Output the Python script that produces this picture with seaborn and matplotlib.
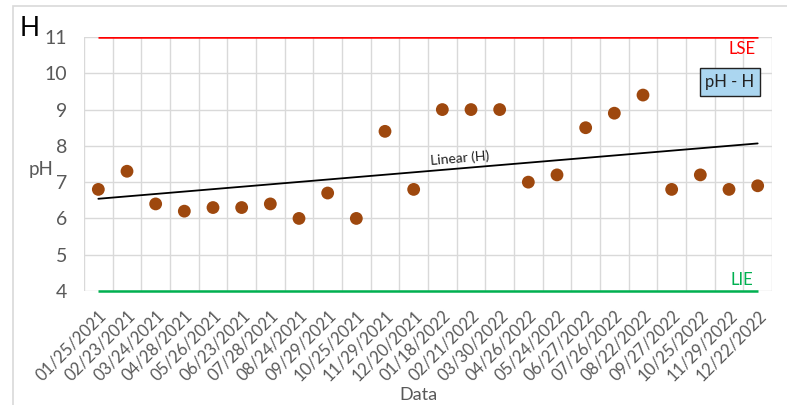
import numpy as np
import pandas as pd
import seaborn as sns
import matplotlib.pyplot as plt
from matplotlib.patches import Rectangle

dates = ["01/25/2021", "02/23/2021", "03/24/2021", "04/28/2021", "05/26/2021",
         "06/23/2021", "07/28/2021", "08/24/2021", "09/29/2021", "10/25/2021",
         "11/29/2021", "12/20/2021", "01/18/2022", "02/21/2022", "03/30/2022",
         "04/26/2022", "05/24/2022", "06/27/2022", "07/26/2022", "08/22/2022",
         "09/27/2022", "10/25/2022", "11/29/2022", "12/22/2022"]
ph_values = [6.8, 7.3, 6.4, 6.2, 6.3, 6.3, 6.4, 6.0, 6.7, 6.0, 8.4, 6.8,
             9.0, 9.0, 9.0, 7.0, 7.2, 8.5, 8.9, 9.4, 6.8, 7.2, 6.8, 6.9]
upper_limit = 11   # LSE
lower_limit = 4    # LIE
y_ticks = [4, 5, 6, 7, 8, 9, 10, 11]

sns.set_theme(style="white")
plt.rcParams['font.family'] = ['Lato', 'DejaVu Sans']

df = pd.DataFrame({"idx": np.arange(len(dates)), "ph": ph_values, "date": dates})

fig = plt.figure(figsize=(7.87, 4.05), dpi=100)
ax = fig.add_axes([84 / 787, 1 - 291 / 405, (772 - 84) / 787, (291 - 37) / 405])

# outer chart frame
fig.patches.append(Rectangle((13 / 787, -0.1), 1.2, 1 - 6 / 405 + 0.1,
                             transform=fig.transFigure, fill=False,
                             edgecolor="#d9d9d9", linewidth=1.2, zorder=0))

n = len(dates)
ax.set_xlim(-0.5, n - 0.5)
ax.set_ylim(lower_limit, upper_limit)

# grid: horizontal at each unit, vertical at category boundaries
ax.set_yticks(y_ticks)
ax.set_xticks(np.arange(n))
ax.grid(False)
for yv in y_ticks:
    ax.axhline(yv, color="#d9d9d9", lw=1.0, zorder=0)
for xv in np.arange(n + 1) - 0.5:
    ax.axvline(xv, color="#d9d9d9", lw=1.0, zorder=0)
for s in ax.spines.values():
    s.set_visible(False)

# specification limits
x0, x1 = 0, n - 1
ax.plot([x0, x1], [upper_limit, upper_limit], color="#ff0000", lw=1.8, zorder=2,
        solid_capstyle="butt")
ax.plot([x0, x1], [lower_limit, lower_limit], color="#00b050", lw=1.8, zorder=2,
        solid_capstyle="butt", clip_on=False)

# linear trend
slope, intercept = np.polyfit(df["idx"], df["ph"], 1)
ax.plot([x0, x1], [intercept + slope * x0, intercept + slope * x1],
        color="black", lw=1.3, zorder=3)

sns.scatterplot(data=df, x="idx", y="ph", ax=ax, color="#9e480e", s=85,
                edgecolor="none", zorder=4, legend=False)

xl = 12.6
ax.text(xl, intercept + slope * xl + 0.04, "Linear (H)", fontsize=10,
        rotation=4.8, ha="center", va="bottom", color="#222222")

ax.text(22.45, upper_limit - 0.12, "LSE", color="#ff0000", fontsize=12,
        ha="center", va="top")
ax.text(22.45, lower_limit + 0.07, "LIE", color="#00b050", fontsize=12,
        ha="center", va="bottom")

ax.set_xticklabels(dates, rotation=45, ha="right", rotation_mode="anchor",
                   fontsize=12, color="#595959")
ax.set_yticklabels([str(v) for v in y_ticks], fontsize=14, color="#595959")
ax.tick_params(axis="both", length=0)
ax.tick_params(axis="y", pad=12)
ax.tick_params(axis="x", pad=12)
ax.set_xlabel("")
ax.set_ylabel("")

fig.text(41 / 787, 1 - 170 / 405, "pH", fontsize=13.5, color="#595959",
         ha="center", va="center")
fig.text(418 / 787, 1 - 395 / 405, "Data", fontsize=13, color="#595959",
         ha="center", va="center")
fig.text(20 / 787, 1 - 28 / 405, "H", fontsize=19, color="#000000",
         ha="left", va="center")

fig.text(730 / 787, 1 - 82 / 405, "pH - H", fontsize=12, color="#222222",
         ha="center", va="center",
         bbox=dict(boxstyle="square,pad=0.35", facecolor="#abd6f0",
                   edgecolor="#222222", linewidth=1.0))

fig.savefig("out.png", dpi=100)
